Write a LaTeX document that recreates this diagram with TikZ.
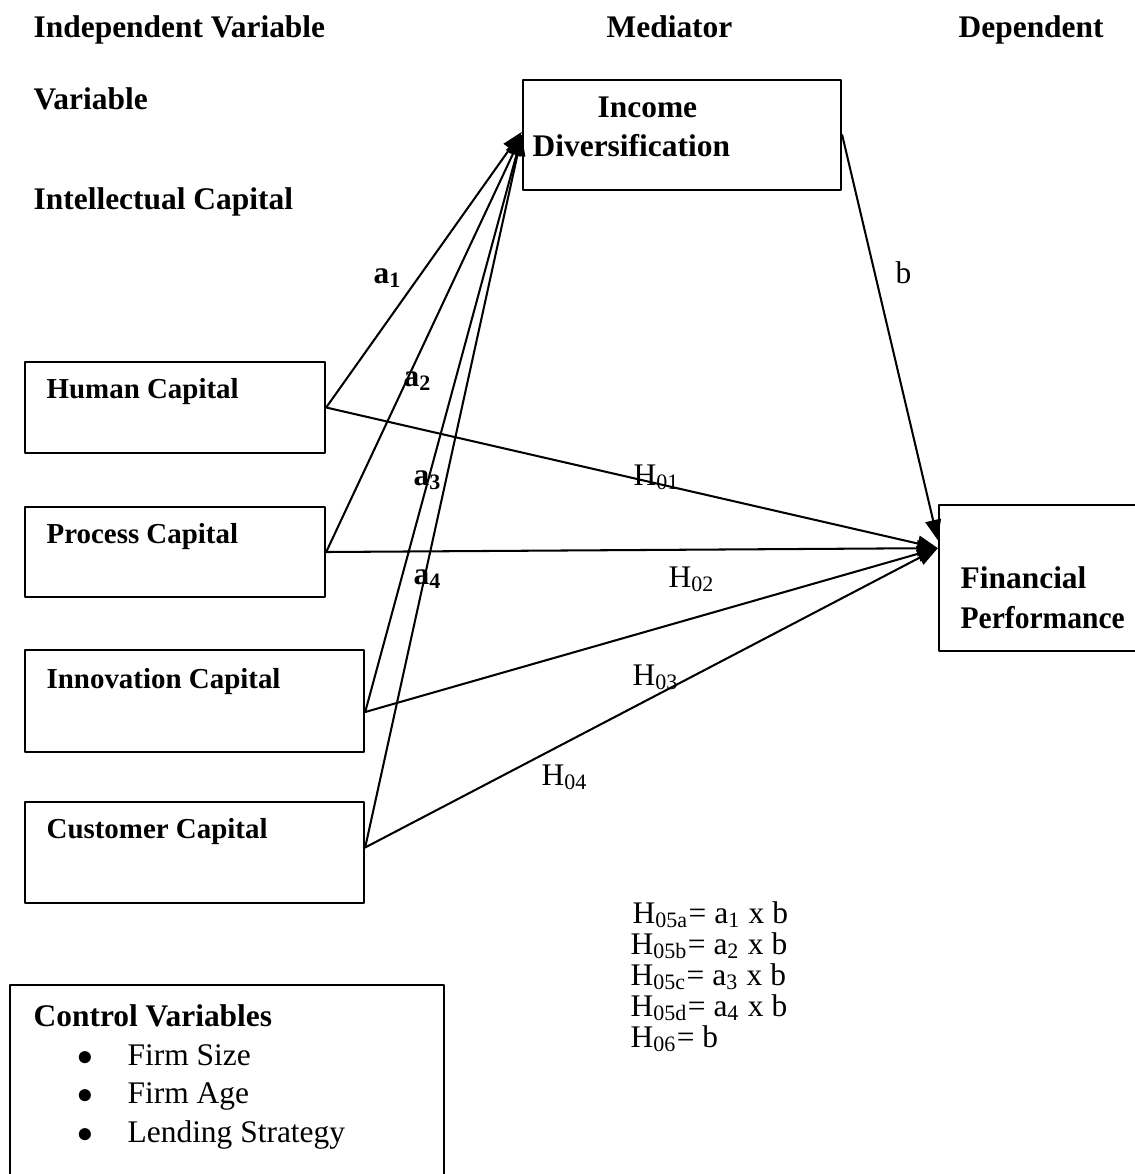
\documentclass[tikz,border=0pt]{standalone}
\usepackage{fontspec}
\setmainfont{Liberation Serif}
\usetikzlibrary{arrows.meta,fit}
\tikzset{
  box/.style={draw,line width=0.75pt,inner sep=0pt},
  ttl/.style={anchor=base west,inner sep=0pt,font=\bfseries},
  boxttl/.style={anchor=base west,inner sep=0pt,font=\fontsize{9.2}{11}\bfseries},
  txt/.style={anchor=base west,inner sep=0pt},
  link/.style={->,line width=0.65pt}
}
\begin{document}
\begin{tikzpicture}[line cap=round,line join=round,>={Triangle[length=6.5pt,width=5pt]},x=0.318pt,y=-0.318pt]
\useasboundingbox (0,0) rectangle (1135,1174);
\clip (0,0) rectangle (1135,1174);
\node[ttl] (hindep) at (33,37) {Independent Variable};
\node[ttl] (hmed) at (606,37) {Mediator};
\node[ttl] (hdep) at (958,37) {Dependent};
\node[ttl] (hvar) at (33,109) {Variable};
\node[ttl] (hic) at (33,209) {Intellectual Capital};
\node[box,fit={(523,80) (841,190)}] (id) {};
\node[box,fit={(25,362) (325,453)}] (hc) {};
\node[box,fit={(25,507) (325,597)}] (pc) {};
\node[box,fit={(25,650) (364,752)}] (inc) {};
\node[box,fit={(25,802) (364,903)}] (cc) {};
\node[box,fit={(939,505) (1170,651)}] (fp) {};
\node[box,fit={(10,985) (444,1210)}] (ctrl) {};
\node[ttl] (tid1) at (597,117) {Income};
\node[ttl] (tid2) at (532,156) {Diversification};
\node[boxttl] (thc) at (46,398) {Human Capital};
\node[boxttl] (tpc) at (46,543) {Process Capital};
\node[boxttl] (tinc) at (46,688) {Innovation Capital};
\node[boxttl] (tcc) at (46,838) {Customer Capital};
\node[ttl] (tfp1) at (960,588) {Financial};
\node[ttl] (tfp2) at (960,628) {\scalebox{0.94}[1]{Performance}};
\coordinate (fpin) at ([yshift=9.5pt]fp.west);
\coordinate (fpb) at ([yshift=12pt]fp.west);
\draw[link] (hc.east) -- ([yshift=1pt]id.west);
\draw[link] (pc.east) -- (id.west);
\draw[link] ([yshift=-3.5pt]inc.east) -- (id.west);
\draw[link] ([yshift=1.6pt]cc.east) -- (id.west);
\draw[link] (hc.east) -- (fpin);
\draw[link] (pc.east) -- (fpin);
\draw[link] ([yshift=-3.5pt]inc.east) -- (fpin);
\draw[link] ([yshift=1.6pt]cc.east) -- (fpin);
\draw[link] (id.east) -- (fpb);
\node[ttl] (la1) at (373,283) {a\textsubscript{1}};
\node[ttl] (la2) at (403,386) {a\textsubscript{2}};
\node[ttl] (la3) at (413,485) {a\textsubscript{3}};
\node[ttl] (la4) at (413,584) {a\textsubscript{4}};
\node[txt] (lb) at (895,283) {b};
\node[txt] (lh1) at (633,485) {H\textsubscript{01}};
\node[txt] (lh2) at (668,587) {H\textsubscript{02}};
\node[txt] (lh3) at (632,685) {H\textsubscript{03}};
\node[txt] (lh4) at (541,785) {H\textsubscript{04}};
\node[txt] (f1) at (632,923) {H\textsubscript{05a}= a\textsubscript{1} x b};
\node[txt] (f2) at (630,954) {H\textsubscript{05b}= a\textsubscript{2} x b};
\node[txt] (f3) at (630,985) {H\textsubscript{05c}= a\textsubscript{3} x b};
\node[txt] (f4) at (630,1016) {H\textsubscript{05d}= a\textsubscript{4} x b};
\node[txt] (f5) at (630,1047) {H\textsubscript{06}= b};
\node[ttl] (tctrl) at (33,1026) {Control Variables};
\node[txt] (c1) at (127,1065) {Firm Size};
\node[txt] (c2) at (127,1103) {Firm Age};
\node[txt] (c3) at (127,1142) {Lending Strategy};
\node[anchor=base] (b1) at (85,1065) {$\bullet$};
\node[anchor=base] (b2) at (85,1103) {$\bullet$};
\node[anchor=base] (b3) at (85,1142) {$\bullet$};
\end{tikzpicture}
\end{document}
